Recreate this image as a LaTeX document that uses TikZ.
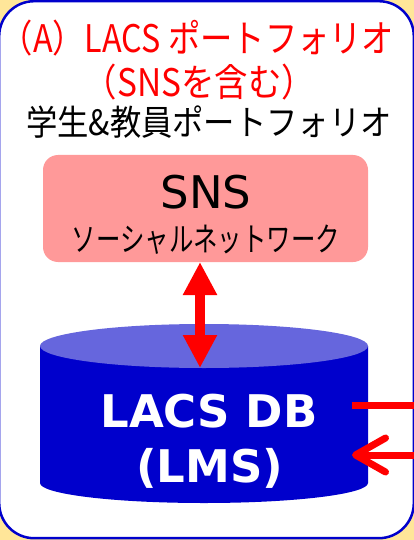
\documentclass[tikz,border=0pt]{standalone}
\usepackage{fontspec}
\usepackage{graphicx}
\usetikzlibrary{arrows.meta}
\newfontfamily\jp{Noto Sans CJK JP}
\newfontfamily\dv{DejaVu Sans}
\definecolor{bgyellow}{HTML}{FFE699}
\definecolor{framecol}{HTML}{0000CC}
\definecolor{snspink}{HTML}{FF9999}
\definecolor{dbtopcol}{HTML}{6666DD}
\definecolor{dbbody}{HTML}{0000CC}
\definecolor{arrred}{HTML}{FF0000}
\tikzset{
  txt/.style={inner sep=0pt, anchor=base},
  redtitle/.style={txt, text=arrred, font=\jp\fontsize{38}{45}\selectfont},
  blacktitle/.style={txt, text=black, font=\jp\fontsize{35}{42}\selectfont},
  dbtext/.style={txt, text=white, font=\dv\bfseries\fontsize{45}{54}\selectfont},
  redline/.style={draw=arrred, line width=7pt},
}
\begin{document}
\begin{tikzpicture}[x=1pt,y=-1pt]
\useasboundingbox (0,0) rectangle (414,540);
\fill[bgyellow] (0,0) rectangle (414,540);
\draw[framecol, line width=2.5pt, fill=white, rounded corners=35pt] (-0.8,1.2) rectangle (413.8,538.2);
% titles
\node[redtitle] (t1) at (197.5,53) {\scalebox{0.85}[1]{（A）LACS ポートフォリオ}};
\node[redtitle] (t2) at (199.5,96.5) {\scalebox{0.88}[1]{（SNSを含む）}};
\node[blacktitle] (t3) at (209,136) {\scalebox{0.895}[1]{学生\&教員ポートフォリオ}};
% SNS box
\node[fill=snspink, rounded corners=15pt, minimum width=325pt, minimum height=107pt, inner sep=0pt] (sns) at (205.5,208.5) {};
\node[txt, font=\dv\fontsize{45}{54}\selectfont] (snstxt) at (206,208) {SNS};
\node[txt, font=\jp\fontsize{33}{40}\selectfont] (snssub) at (206,251) {\scalebox{0.74}[1]{ソーシャルネットワーク}};
% cylinder
\fill[dbbody] (40,346) -- (40,483) arc[start angle=180, end angle=0, x radius=164, y radius=20] -- (368,346) -- cycle;
\fill[dbtopcol] (204,346) ellipse[x radius=164, y radius=22];
\node[inner sep=0pt, minimum width=328pt, minimum height=180pt] (db) at (204,414) {};
\node[dbtext] (dbl1) at (209,427) {LACS DB};
\node[dbtext] (dbl2) at (209.5,482) {(LMS)};
% arrows
\coordinate (snsb) at (200,262);
\coordinate (dbt) at (200,368);
\draw[arrred, line width=10pt, {Triangle[width=32pt,length=33pt]}-{Triangle[width=32pt,length=33pt]}] (snsb) -- (dbt);
\coordinate (out1) at (352,405);
\coordinate (outend) at (416,405);
\draw[redline] (out1) -- (outend);
\coordinate (in2) at (416,455);
\coordinate (in2tip) at (352,455);
\draw[redline, -{Straight Barb[length=30pt,width=34pt,round]}] (in2) -- (in2tip);
\end{tikzpicture}
\end{document}
